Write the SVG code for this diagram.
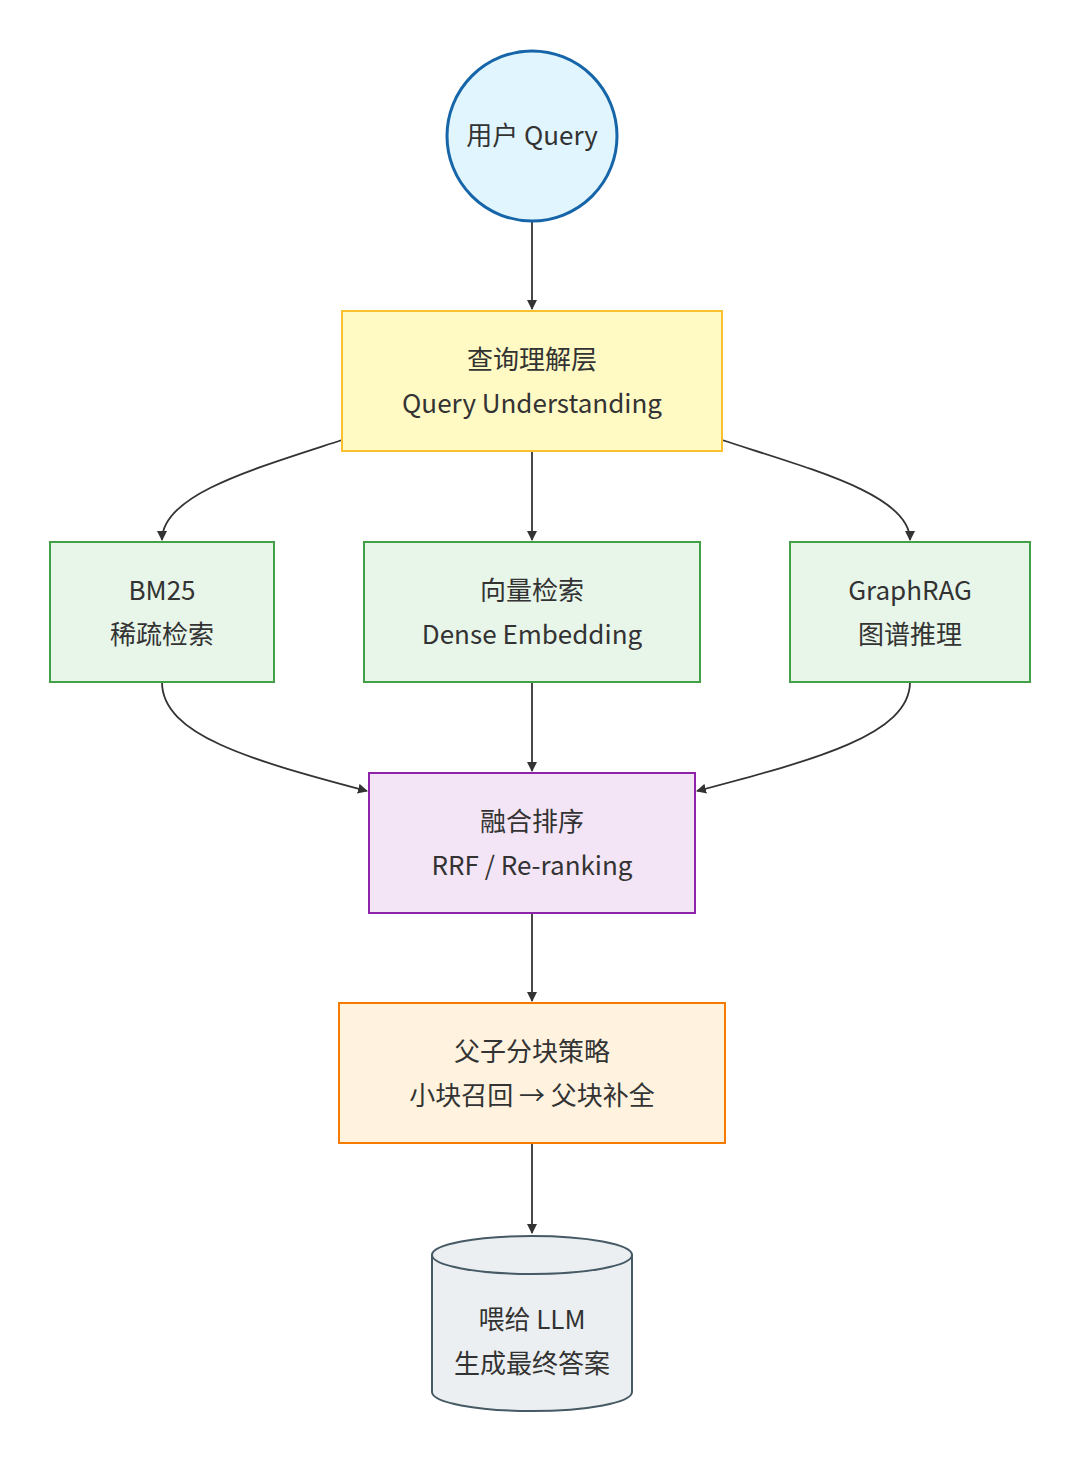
<svg xmlns="http://www.w3.org/2000/svg" width="1080" height="1462" viewBox="0 0 1080 1462">
<style>
text{font-family:"Noto Sans CJK SC","Noto Sans",sans-serif;font-size:26px;fill:#333;text-anchor:middle}
.e{fill:none;stroke:#333;stroke-width:1.8}
</style>
<defs><marker id="a" markerWidth="10" markerHeight="10" refX="9" refY="5" orient="auto" markerUnits="userSpaceOnUse"><path d="M0,0L10,5L0,10z" fill="#333"/></marker></defs>
<rect width="1080" height="1462" fill="#fff"/>
<g id="edges">
<path class="e" marker-end="url(#a)" d="M532,221V309"/>
<path class="e" marker-end="url(#a)" d="M342,440C250,470 162,495 162,540"/>
<path class="e" marker-end="url(#a)" d="M532,451V540"/>
<path class="e" marker-end="url(#a)" d="M722,440C814,470 910,495 910,540"/>
<path class="e" marker-end="url(#a)" d="M162,682C162,735 250,760 367,791"/>
<path class="e" marker-end="url(#a)" d="M532,682V771"/>
<path class="e" marker-end="url(#a)" d="M910,682C910,735 814,760 697,791"/>
<path class="e" marker-end="url(#a)" d="M532,913V1001"/>
<path class="e" marker-end="url(#a)" d="M532,1143V1233"/>
</g>
<g id="q"><circle cx="532" cy="136" r="85" fill="#e1f5fe" stroke="#1565a8" stroke-width="3"/><text x="532" y="145">用户 Query</text></g>
<g id="u"><rect x="342" y="311" width="380" height="140" fill="#fff9c4" stroke="#fbc02d" stroke-width="2"/><text x="532" y="369">查询理解层</text><text x="532" y="413">Query Understanding</text></g>
<g id="bm"><rect x="50" y="542" width="224" height="140" fill="#e8f5e9" stroke="#43a047" stroke-width="2"/><text x="162" y="600">BM25</text><text x="162" y="644">稀疏检索</text></g>
<g id="de"><rect x="364" y="542" width="336" height="140" fill="#e8f5e9" stroke="#43a047" stroke-width="2"/><text x="532" y="600">向量检索</text><text x="532" y="644">Dense Embedding</text></g>
<g id="gr"><rect x="790" y="542" width="240" height="140" fill="#e8f5e9" stroke="#43a047" stroke-width="2"/><text x="910" y="600">GraphRAG</text><text x="910" y="644">图谱推理</text></g>
<g id="rrf"><rect x="369" y="773" width="326" height="140" fill="#f3e5f5" stroke="#8e24aa" stroke-width="2"/><text x="532" y="831">融合排序</text><text x="532" y="875">RRF / Re-ranking</text></g>
<g id="pc"><rect x="339" y="1003" width="386" height="140" fill="#fff3e0" stroke="#f57c00" stroke-width="2"/><text x="532" y="1061">父子分块策略</text><text x="532" y="1105">小块召回 → 父块补全</text></g>
<g id="llm"><path d="M432,1255V1392A100,19 0 0 0 632,1392V1255A100,19 0 0 0 432,1255Z" fill="#eceff1" stroke="#455a64" stroke-width="2"/><path d="M432,1255A100,19 0 0 0 632,1255" fill="none" stroke="#455a64" stroke-width="2"/><text x="532" y="1329">喂给 LLM</text><text x="532" y="1373">生成最终答案</text></g>
</svg>
